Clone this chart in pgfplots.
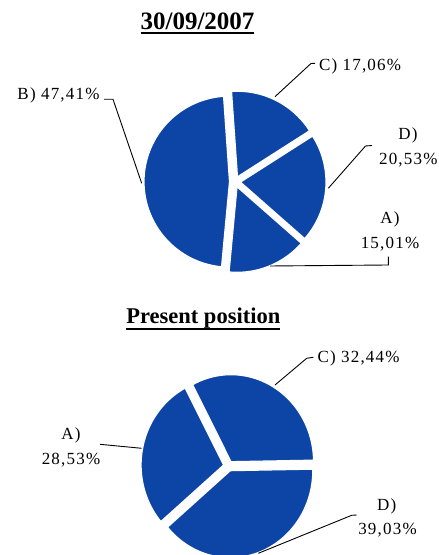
\documentclass[border=0pt]{standalone}
\usepackage{pgfplots}
\usepackage{pgfplotstable}
\pgfplotsset{compat=1.18}
\usepackage{fontspec}
\setmainfont{Liberation Serif}
\newfontfamily\lblfont[LetterSpace=7]{Liberation Serif}

\definecolor{pieblue}{RGB}{13,69,166}

% Shares per category (percent)
\pgfplotstableread{
label value
A 15.01
B 47.41
C 17.06
D 20.53
}\piesept

\pgfplotstableread{
label value
A 28.53
C 32.44
D 39.03
}\pienow

\tikzset{pieslice/.style={fill=pieblue, draw=white, line width=1.2bp, line join=round}}

% #1 table, #2 cx, #3 cy, #4 rx, #5 ry, #6 start angle, #7 explode distance
\newcommand\drawpie[7]{%
  \pgfplotstablegetrowsof{#1}%
  \pgfmathtruncatemacro\lastrow{\pgfplotsretval-1}%
  \pgfmathsetmacro\cum{#6}%
  \pgfplotsforeachungrouped \i in {0,...,\lastrow}{%
    \pgfplotstablegetelem{\i}{value}\of{#1}%
    \let\sliceval\pgfplotsretval
    \pgfmathsetmacro\angA{\cum}%
    \pgfmathsetmacro\angB{\cum-3.6*\sliceval}%
    \pgfmathsetmacro\angM{(\angA+\angB)/2}%
    \pgfmathsetmacro\ox{#2+#7*cos(\angM)}%
    \pgfmathsetmacro\oy{#3+#7*sin(\angM)}%
    \edef\doslice{\noexpand\addplot[pieslice, domain=\angB:\angA, samples=120]
      ({\ox+#4*cos(x)},{\oy+#5*sin(x)}) -- (axis cs:\ox,\oy) -- cycle;}%
    \doslice
    \let\cum\angB
  }%
}

\newcommand\ultitle[2]{\setbox0=\hbox{#1}\rlap{\rule[#2]{\wd0}{1.8bp}}\box0}
\newcommand\lbl{\lblfont\fontsize{17bp}{19bp}\selectfont}

\begin{document}
\begin{tikzpicture}
\useasboundingbox (0,0) rectangle (439bp,555bp);
\begin{axis}[
  at={(0,0)}, anchor=south west,
  width=439bp, height=555bp, scale only axis,
  xmin=0, xmax=439, ymin=0, ymax=555,
  hide axis, clip=true,
  every node/.style={inner sep=0pt, text=black},
]
% pie for 30/09/2007
\drawpie{\piesept}{235}{373.3}{85.5}{85.5}{-41.3}{5.5}
% pie for present position
\drawpie{\pienow}{228.5}{89}{82.5}{87}{-139.5}{5}

% leader lines
\begin{scope}[line width=0.9bp, black]
\draw (axis cs:315,491.7) -- (axis cs:311,491.5) -- (axis cs:275,458.3);
\draw (axis cs:104,455.7) -- (axis cs:113,455.7) -- (axis cs:141.7,371.7);
\draw (axis cs:372,409.5) -- (axis cs:365.5,409) -- (axis cs:328.3,366.7);
\draw (axis cs:388.3,298.3) -- (axis cs:388.3,290) -- (axis cs:270,289);
\draw (axis cs:313.3,197.7) -- (axis cs:306.7,196.7) -- (axis cs:275,170);
\draw (axis cs:100,110.7) -- (axis cs:141.7,106.7);
\draw (axis cs:356.7,40) -- (axis cs:351.7,39.7) -- (axis cs:258.3,1.7);
\end{scope}

% titles
\node[anchor=base] at (axis cs:197.5,525)
  {\fontsize{25bp}{28bp}\selectfont\bfseries\ultitle{30/09/2007}{-4.2bp}};
\node[anchor=base] at (axis cs:203.3,231.7)
  {\fontsize{22.5bp}{26bp}\selectfont\bfseries\ultitle{Present position}{-6.7bp}};

% slice labels
\node[anchor=base west] at (axis cs:315.5,484.3) {\lbl C) 17,06\%};
\node[anchor=base east] at (axis cs:103,455) {\lbl B) 47,41\%};
\node[anchor=base] at (axis cs:408,415) {\lbl D)};
\node[anchor=base] at (axis cs:408.3,390) {\lbl 20,53\%};
\node[anchor=base] at (axis cs:390,331.7) {\lbl A)};
\node[anchor=base] at (axis cs:390,306.7) {\lbl 15,01\%};

\node[anchor=base west] at (axis cs:314,192.3) {\lbl C) 32,44\%};
\node[anchor=base] at (axis cs:71,115) {\lbl A)};
\node[anchor=base] at (axis cs:71,90.7) {\lbl 28,53\%};
\node[anchor=base] at (axis cs:386.7,45) {\lbl D)};
\node[anchor=base] at (axis cs:387.5,21) {\lbl 39,03\%};
\end{axis}
\end{tikzpicture}
\end{document}
